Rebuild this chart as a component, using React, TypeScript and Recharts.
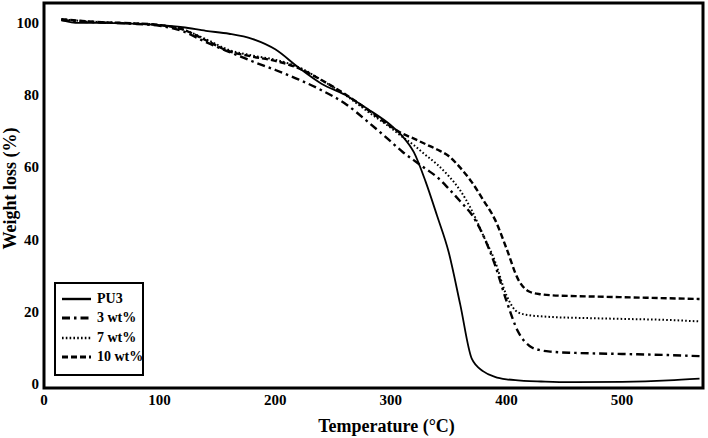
import React from "react";
import { LineChart, Line, XAxis, YAxis, Legend, ReferenceArea } from "recharts";

const temperature = [15, 30, 50, 75, 100, 120, 140, 160, 180, 200, 220, 240, 260, 280, 300, 310, 320, 330, 340, 350, 360, 370, 380, 390, 400, 410, 420, 430, 440, 460, 500, 540, 567];
const pu3 = [100.6, 99.8, 99.8, 99.6, 99.2, 98.6, 97.6, 96.8, 95.4, 92.5, 87.5, 83, 80, 76, 71.5, 68.5, 64, 56, 46.5, 36.5, 22, 7, 3.5, 2, 1.3, 1, 0.8, 0.7, 0.6, 0.5, 0.6, 1, 1.5];
const wt3 = [100.6, 100.2, 99.9, 99.6, 99, 97.5, 94.5, 91.8, 89.2, 86.8, 84.2, 81.2, 77.6, 72.5, 67, 64.2, 61.8, 59.5, 57.2, 54, 50.5, 46.8, 41, 33, 23, 14.5, 10.5, 9.3, 8.9, 8.6, 8.3, 8, 7.7];
const wt7 = [100.8, 100.4, 100, 99.7, 99.2, 98, 95.3, 92.3, 90.8, 89.6, 87.6, 84, 80, 75.3, 70.8, 68.3, 66, 63.3, 60.7, 57.5, 53.5, 48, 41, 34, 24.5, 19.8, 19, 18.7, 18.5, 18.3, 18, 17.7, 17.3];
const wt10 = [100.8, 100.4, 100, 99.7, 99.2, 98, 95, 92, 90.5, 89.3, 87.3, 84, 80.2, 75.8, 71.2, 69.2, 67.8, 66.3, 64.8, 63, 59.8, 55.8, 50.8, 45.5, 37.5, 29, 25.5, 24.8, 24.5, 24.3, 24, 23.7, 23.5];

const xTicks = [0, 100, 200, 300, 400, 500];
const yTicks = [0, 20, 40, 60, 80, 100];

const font = '"Liberation Serif", "Times New Roman", serif';

const series = [
  { key: "pu3", name: "PU3", width: 1.8, dash: undefined as string | undefined },
  { key: "wt3", name: "3 wt%", width: 2.4, dash: "8 4 2.5 4" },
  { key: "wt7", name: "7 wt%", width: 2, dash: "1.6 2.2" },
  { key: "wt10", name: "10 wt%", width: 2.4, dash: "6 3" },
];

const data = temperature.map((t, i) => ({
  t,
  pu3: pu3[i],
  wt3: wt3[i],
  wt7: wt7[i],
  wt10: wt10[i],
}));

function LegendBox() {
  return (
    <div
      style={{
        width: 90,
        height: 94,
        border: "2px solid #000",
        boxSizing: "border-box",
        background: "#fff",
        padding: "5px 0 0 6px",
        fontFamily: font,
        fontWeight: "bold",
        fontSize: 14,
        lineHeight: "16px",
        color: "#000",
        whiteSpace: "nowrap",
      }}
    >
      {series.map((s) => (
        <div key={s.key} style={{ display: "flex", alignItems: "center", height: 19.5 }}>
          <svg width={29} height={6} style={{ marginRight: 6, flexShrink: 0 }}>
            <line x1={0} y1={3} x2={29} y2={3} stroke="#000" strokeWidth={s.width + 0.6} strokeDasharray={s.dash} />
          </svg>
          <span>{s.name}</span>
        </div>
      ))}
    </div>
  );
}

export default function App() {
  const tickStyle = { fill: "#000", fontSize: 15, fontWeight: "bold", fontFamily: font };
  return (
    <div style={{ position: "absolute", left: 0, top: 0, width: 708, height: 438, background: "#fff" }}>
      <LineChart width={708} height={438} data={data} margin={{ top: 3, right: 5, left: 0, bottom: 0 }}>
        <XAxis
          dataKey="t"
          type="number"
          domain={[0, 570]}
          ticks={xTicks}
          allowDataOverflow
          height={50}
          tickLine={false}
          axisLine={false}
          tickSize={0}
          tickMargin={6}
          tick={tickStyle}
          label={{
            content: (props: any) => {
              const vb = props.viewBox;
              return (
                <text
                  x={vb.x + vb.width / 2 + 13}
                  y={432}
                  textAnchor="middle"
                  fill="#000"
                  fontSize={18}
                  fontWeight="bold"
                  fontFamily={font}
                >
                  Temperature (°C)
                </text>
              );
            },
          }}
        />
        <YAxis
          type="number"
          domain={[-1.1, 105.3]}
          ticks={yTicks}
          allowDataOverflow
          width={44}
          tickLine={false}
          axisLine={false}
          tickSize={0}
          tickMargin={5}
          tick={tickStyle}
          label={{
            content: (props: any) => {
              const vb = props.viewBox;
              const cy = vb.y + vb.height / 2 - 7;
              return (
                <text
                  x={16}
                  y={cy}
                  transform={`rotate(-90, 16, ${cy})`}
                  textAnchor="middle"
                  fill="#000"
                  fontSize={18}
                  fontWeight="bold"
                  fontFamily={font}
                >
                  Weight loss (%)
                </text>
              );
            },
          }}
        />
        <ReferenceArea x1={0} x2={570} y1={-1.1} y2={105.3} fill="none" stroke="#000" strokeWidth={3} ifOverflow="visible" />
        {series.map((s) => (
          <Line
            key={s.key}
            dataKey={s.key}
            name={s.name}
            type="monotone"
            stroke="#000"
            strokeWidth={s.width}
            strokeDasharray={s.dash}
            dot={false}
            isAnimationActive={false}
          />
        ))}
        <Legend
          layout="horizontal"
          verticalAlign="middle"
          align="center"
          content={() => <LegendBox />}
          wrapperStyle={{ left: 54, top: 282, width: 90, height: 94 }}
        />
      </LineChart>
    </div>
  );
}
